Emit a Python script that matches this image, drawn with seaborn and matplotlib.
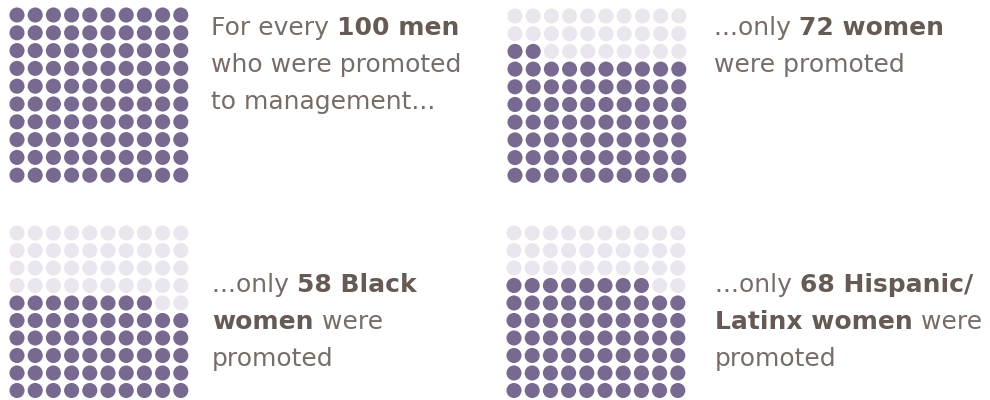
import pandas as pd
import matplotlib
matplotlib.use('Agg')
import matplotlib.pyplot as plt
import seaborn as sns

# values shown in each waffle (out of 100)
groups = ['men', 'women', 'black_women', 'latinx_women']
promoted = [100, 72, 58, 68]

# caption lines for each panel, as (text, bold) pieces
captions = [
    [[('For every ', False), ('100 men', True)],
     [('who were promoted', False)],
     [('to management...', False)]],
    [[('...only ', False), ('72 women', True)],
     [('were promoted', False)]],
    [[('...only ', False), ('58 Black', True)],
     [('women', True), (' were', False)],
     [('promoted', False)]],
    [[('...only ', False), ('68 Hispanic/', True)],
     [('Latinx women', True), (' were', False)],
     [('promoted', False)]],
]

PURPLE = '#786991'
LIGHT = '#ebe6ed'
TXT = '#776d66'
TXT_BOLD = '#665b54'

W, H = 990, 400
sns.set_theme(style='white')
plt.rcParams['font.family'] = ['DejaVu Sans']

fig = plt.figure(figsize=(W / 100, H / 100), dpi=100)

# panel layout in pixels: (first dot x, first dot y, x step, y step, text x, first baseline)
panels = [
    (17, 15, 18.2, 17.8, 211, 35),
    (515, 16, 18.2, 17.7, 714, 35),
    (17, 233, 18.2, 17.5, 212, 292),
    (514, 233, 18.2, 17.5, 715, 292),
]
line_gap = 37

renderer = fig.canvas.get_renderer()


def seg_width(text, bold, size):
    # width including spaces, using a bar as a guard
    fp = matplotlib.font_manager.FontProperties(family='DejaVu Sans', size=size,
                                                weight='bold' if bold else 'normal')
    w1, _, _ = renderer.get_text_width_height_descent(text + '|', fp, ismath=False)
    w2, _, _ = renderer.get_text_width_height_descent('|', fp, ismath=False)
    return w1 - w2


fsize = 18
for name, val, cap, (x0, y0, dx, dy, tx, ty) in zip(groups, promoted, captions, panels):
    ax = fig.add_axes([(x0 - dx / 2) / W, 1 - (y0 + dy * 9.5) / H,
                       dx * 10 / W, dy * 10 / H])
    df = pd.DataFrame({'i': range(100)})
    df['col'] = df['i'] % 10
    df['row'] = df['i'] // 10
    df['state'] = ['on' if k < val else 'off' for k in df['i']]
    sns.scatterplot(data=df, x='col', y='row', hue='state',
                    palette={'on': PURPLE, 'off': LIGHT}, s=118,
                    linewidth=0, legend=False, ax=ax)
    ax.set_xlim(-0.5, 9.5)
    ax.set_ylim(-0.5, 9.5)
    ax.set_axis_off()

    for li, line in enumerate(cap):
        x = tx
        y = ty + li * line_gap
        for text, bold in line:
            fig.text(x / W, 1 - y / H, text, fontsize=fsize, va='baseline', ha='left',
                     fontweight='bold' if bold else 'normal',
                     color=TXT_BOLD if bold else TXT)
            x += seg_width(text, bold, fsize)

fig.savefig('out.png', dpi=100, facecolor='white')
